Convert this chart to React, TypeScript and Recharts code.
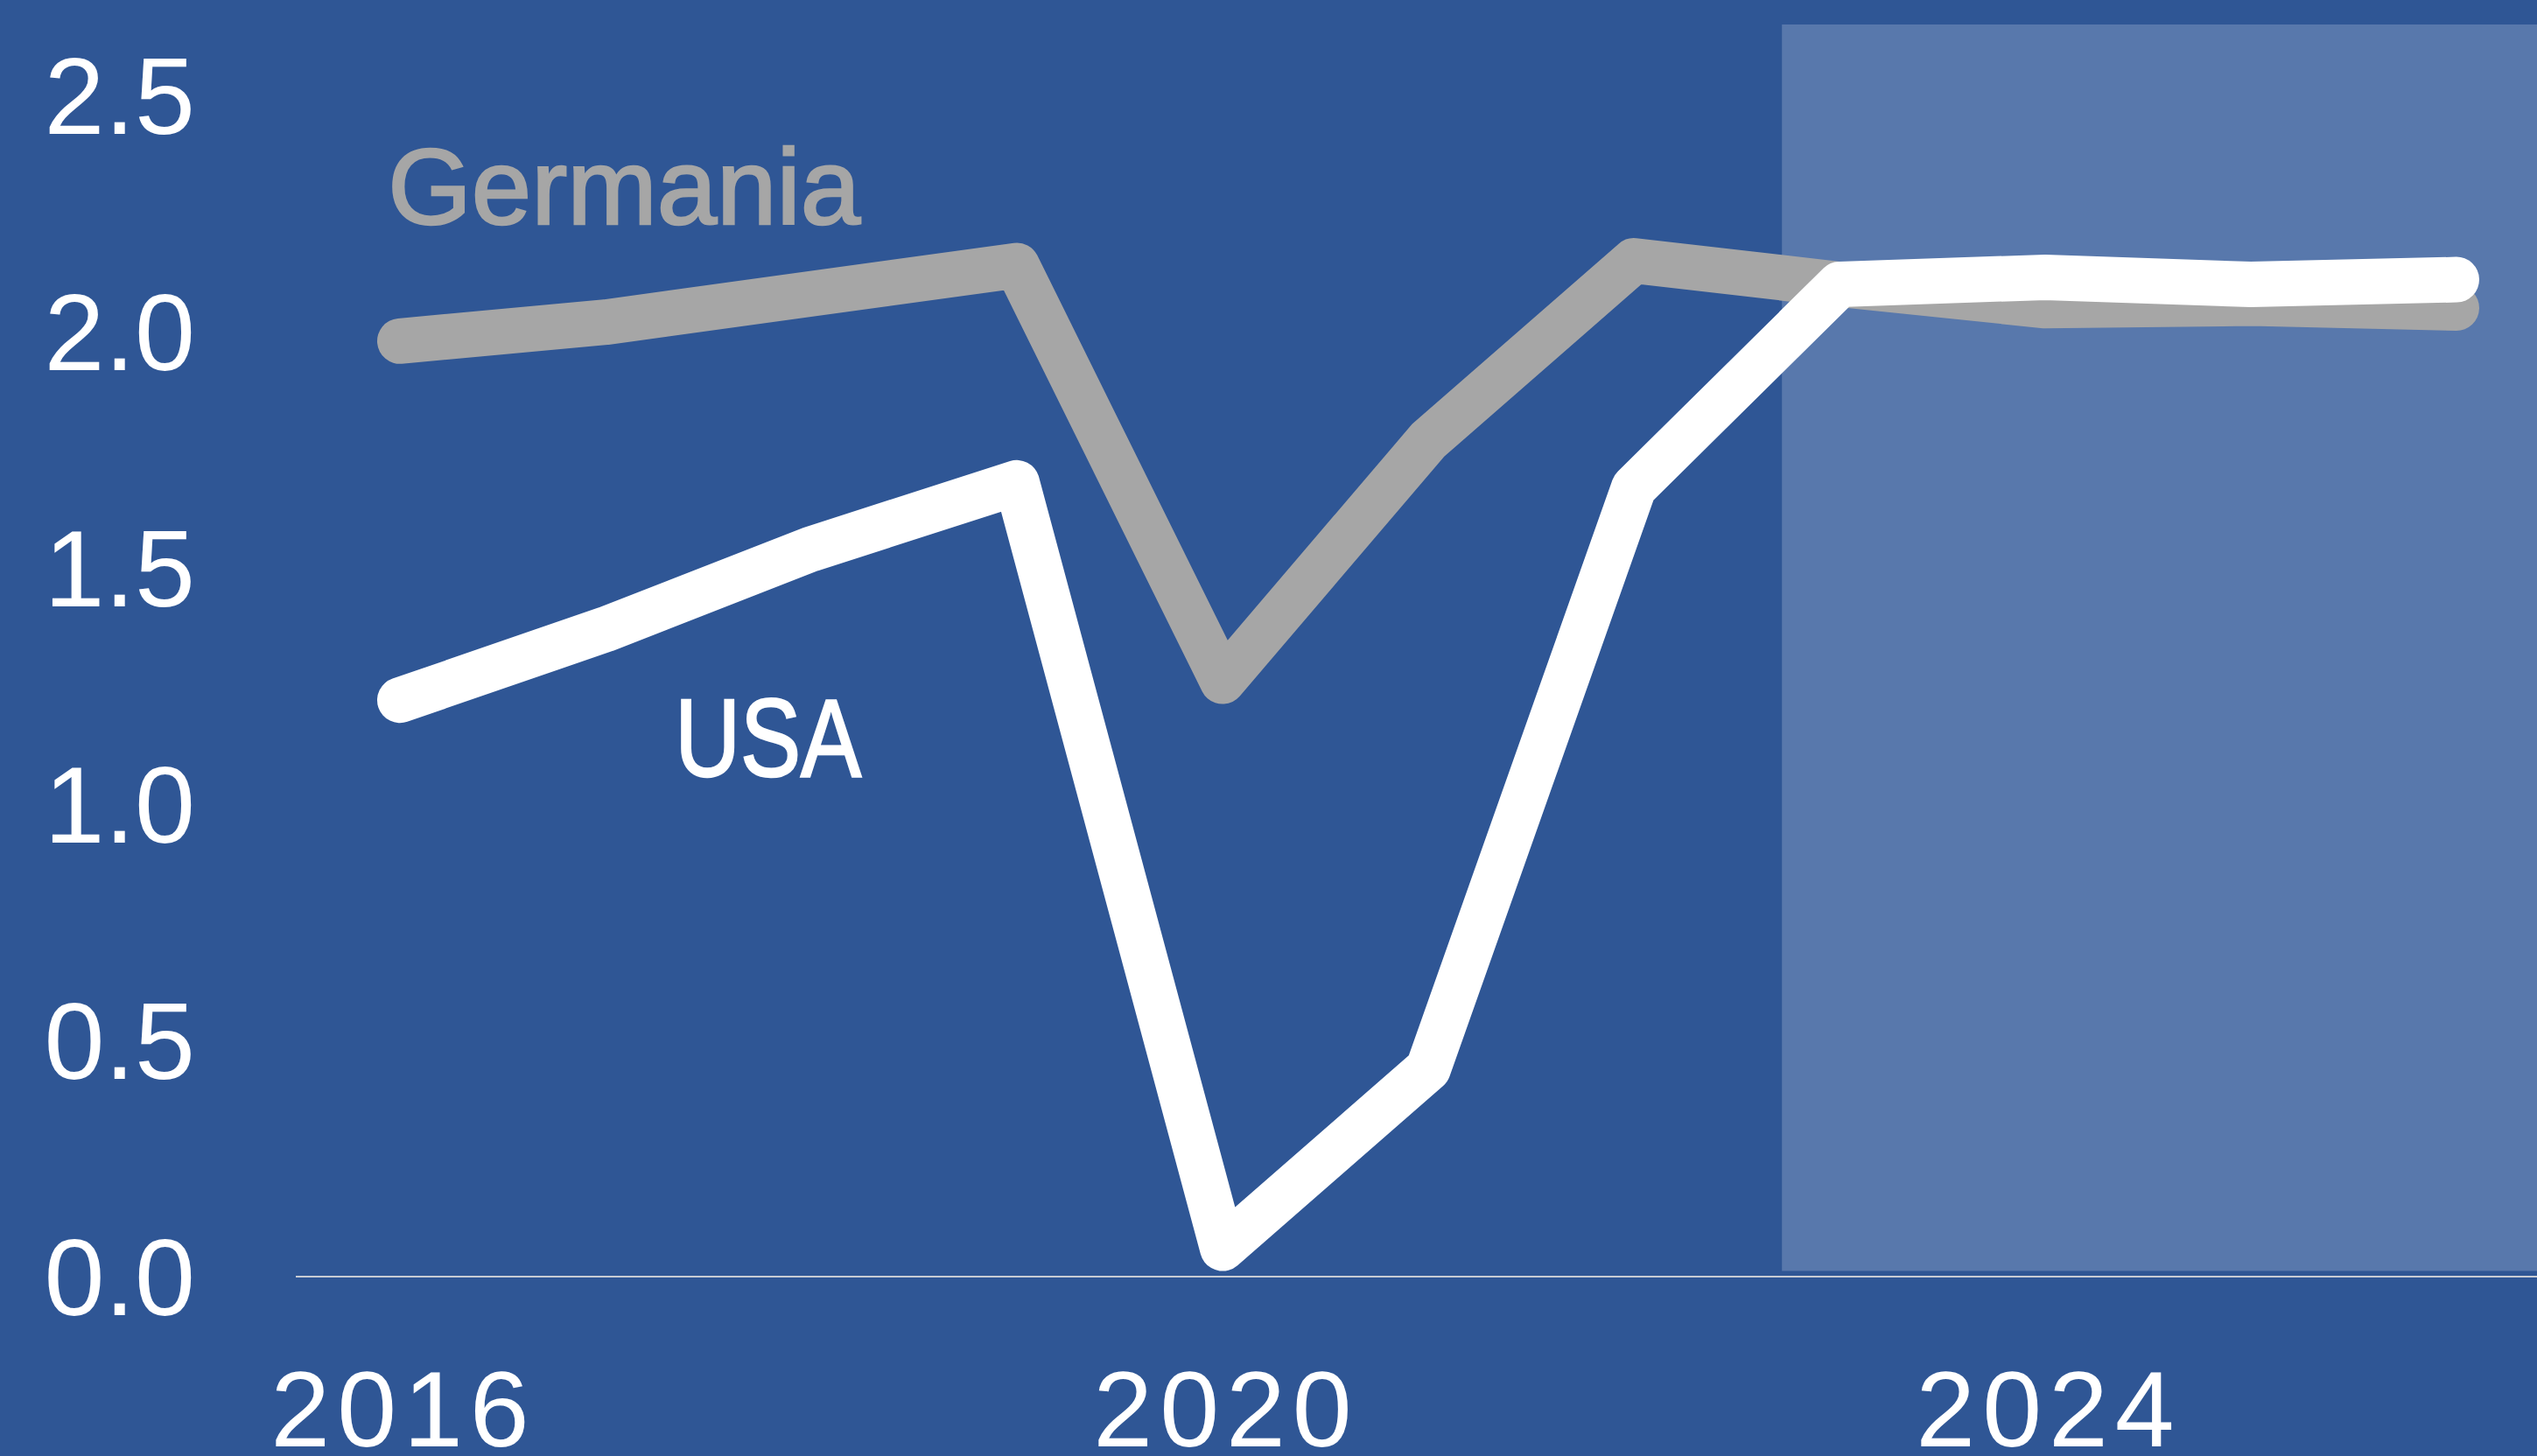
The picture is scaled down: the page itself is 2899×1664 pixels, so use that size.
import {
  ComposedChart,
  Line,
  XAxis,
  YAxis,
  ReferenceArea,
  ReferenceDot,
} from "recharts";

const years = [2016, 2017, 2018, 2019, 2020, 2021, 2022, 2023, 2024, 2025, 2026];
const usa = [1.22, 1.37, 1.54, 1.68, 0.06, 0.44, 1.67, 2.1, 2.115, 2.1, 2.11];
const germania = [1.98, 2.02, 2.08, 2.14, 1.26, 1.77, 2.15, 2.1, 2.055, 2.06, 2.05];

const yTicks = [0, 0.5, 1, 1.5, 2, 2.5];
const xTicks = [2016, 2020, 2024];

// forecast band
const forecastFrom = 2022.72;
const forecastTo = 2026.5;

const data = years.map((year, i) => ({
  year,
  usa: usa[i],
  germania: germania[i],
}));

const BG = "#2f5695";
const FONT = "'Liberation Sans', Arial, sans-serif";

type DotShape = { cx?: number; cy?: number };

const seriesLabel =
  (text: string, color: string, size: number, width?: number) =>
  (p: DotShape) => (
    <text
      x={p.cx}
      y={p.cy}
      dy="0.355em"
      textAnchor="middle"
      fill={color}
      stroke={color}
      strokeWidth={2.5}
      fontSize={size}
      fontFamily={FONT}
      textLength={width}
      lengthAdjust={width ? "spacingAndGlyphs" : undefined}
    >
      {text}
    </text>
  );

export default function App() {
  return (
    <div
      style={{
        position: "absolute",
        left: 0,
        top: 0,
        width: 2899,
        height: 1664,
        background: BG,
        overflow: "hidden",
      }}
    >
      <ComposedChart
        width={2899}
        height={1664}
        data={data}
        margin={{ top: 28, right: 0, bottom: 0, left: 0 }}
      >
        <XAxis
          dataKey="year"
          type="number"
          domain={[2016, 2026]}
          ticks={xTicks}
          height={205}
          padding={{ left: 119, right: 92 }}
          axisLine={{ stroke: "#c8ccd4", strokeWidth: 2 }}
          tickLine={false}
          tickSize={0}
          tickMargin={107}
          tick={{
            fill: "#ffffff",
            fontSize: 122,
            fontFamily: FONT,
            letterSpacing: 8,
            dx: 4,
          }}
        />
        <YAxis
          type="number"
          domain={[0, 2.65]}
          ticks={yTicks}
          width={338}
          axisLine={false}
          tickLine={false}
          tickSize={0}
          tickMargin={115}
          tickFormatter={(v: number) => v.toFixed(1)}
          tick={{ fill: "#ffffff", fontSize: 124, fontFamily: FONT }}
        />
        <ReferenceArea
          x1={forecastFrom}
          x2={forecastTo}
          y1={0.012}
          y2={2.65}
          fill="#5878ac"
          fillOpacity={1}
          stroke="none"
          ifOverflow="visible"
        />
        <Line
          dataKey="germania"
          type="linear"
          stroke="#a6a6a6"
          strokeWidth={52}
          strokeLinecap="round"
          strokeLinejoin="round"
          dot={false}
          activeDot={false}
          isAnimationActive={false}
        />
        <Line
          dataKey="usa"
          type="linear"
          stroke="#ffffff"
          strokeWidth={52}
          strokeLinecap="round"
          strokeLinejoin="round"
          dot={false}
          activeDot={false}
          isAnimationActive={false}
        />
        <ReferenceDot
          x={2017.09}
          y={2.309}
          r={1}
          ifOverflow="visible"
          shape={seriesLabel("Germania", "#a6a6a6", 123)}
        />
        <ReferenceDot
          x={2017.79}
          y={1.143}
          r={1}
          ifOverflow="visible"
          shape={seriesLabel("USA", "#ffffff", 126, 213)}
        />
      </ComposedChart>
    </div>
  );
}
